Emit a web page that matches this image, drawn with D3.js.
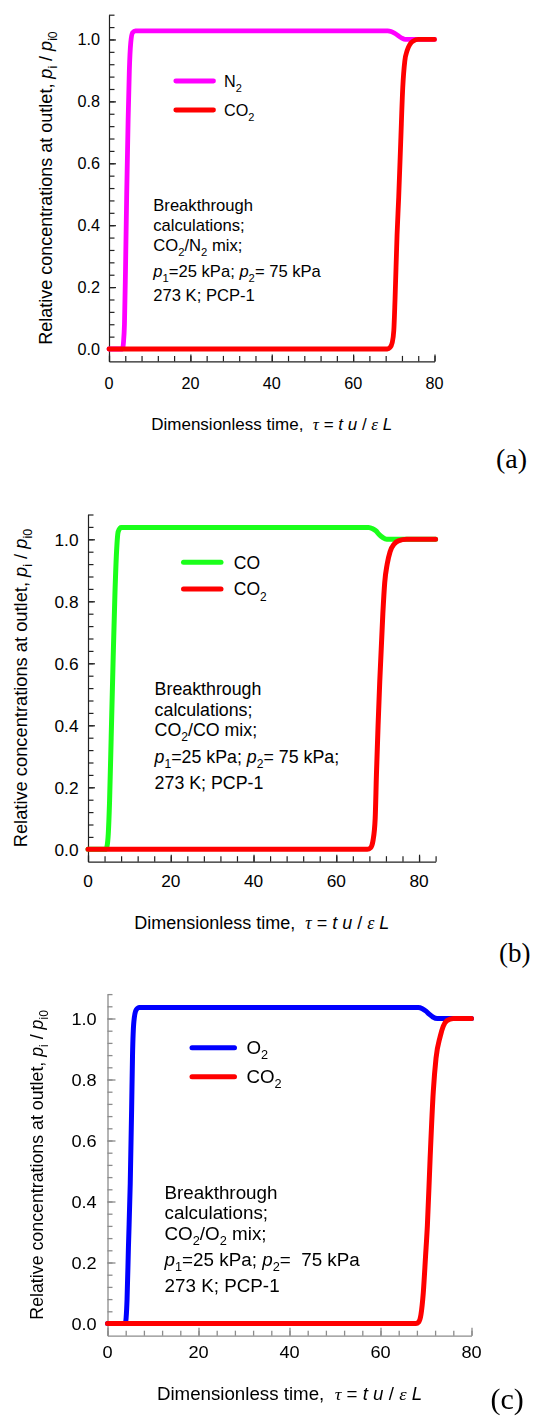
<!DOCTYPE html>
<html>
<head>
<meta charset="utf-8">
<script src="https://cdn.jsdelivr.net/npm/d3@7"></script>
<style>
  body { margin: 0; background: #fff; }
  svg { display: block; }
  text { font-family: "Liberation Sans", Arial, sans-serif; fill: #000; white-space: pre; }
</style>
</head>
<body>
<svg id="fig" width="533" height="1416"></svg>
<script>
// Breakthrough curves: [dimensionless time τ, relative outlet concentration p_i/p_i0]
const n2A = [[0,0],[3.3,0],[3.55,0.02],[3.8,0.08],[4.05,0.25],[4.35,0.5],[4.7,0.74],[5.0,0.9],[5.35,0.99],[5.8,1.022],[6.5,1.028],[20,1.028],[68.5,1.028],[69.3,1.026],[70.2,1.02],[71.1,1.012],[72,1.004],[72.8,1.0],[80,1.0]];
const co2A = [[0,0],[68.4,0],[69.1,0.005],[69.6,0.02],[70.0,0.06],[70.3,0.16],[70.8,0.37],[71.2,0.49],[71.7,0.67],[72.2,0.845],[72.7,0.93],[73.3,0.965],[74.0,0.985],[74.8,0.995],[76,1.0],[80,1.0]];

const coB = [[0,0],[4.3,0],[4.6,0.01],[4.9,0.05],[5.2,0.15],[5.6,0.36],[6.05,0.6],[6.5,0.82],[6.9,0.96],[7.3,1.025],[8,1.038],[20,1.038],[67.8,1.038],[68.8,1.034],[69.6,1.027],[70.3,1.016],[71.2,1.006],[72.2,1.0],[84,1.0]];
const co2B = [[0,0],[67.5,0],[68.3,0.005],[68.9,0.03],[69.4,0.1],[69.7,0.24],[70.1,0.4],[70.5,0.54],[71.25,0.76],[71.7,0.86],[72.3,0.92],[73.0,0.96],[74.0,0.985],[75,0.995],[77,1.0],[84,1.0]];

const o2C = [[0,0],[3.9,0],[4.1,0.02],[4.3,0.08],[4.6,0.25],[5.0,0.46],[5.3,0.7],[5.5,0.88],[5.8,0.99],[6.3,1.028],[7,1.036],[20,1.036],[68.3,1.036],[69.2,1.032],[70,1.024],[70.7,1.014],[71.5,1.005],[72.5,1.0],[80,1.0]];
const co2C = [[0,0],[67.8,0],[68.4,0.005],[68.9,0.03],[69.4,0.1],[69.9,0.22],[70.3,0.32],[70.9,0.54],[71.6,0.76],[72.2,0.87],[73.1,0.94],[73.8,0.975],[74.6,0.993],[76,1.0],[80,1.0]];

// Axis ticks and labels
const yTickValues = [0, 0.2, 0.4, 0.6, 0.8, 1.0];
const yTickLabels = ["0.0", "0.2", "0.4", "0.6", "0.8", "1.0"];
const xTickValues = [0, 20, 40, 60, 80];
const xTickLabels = ["0", "20", "40", "60", "80"];
const panelLetters = ["(a)", "(b)", "(c)"];

// Legend entries and annotation text (sub = subscript, i = italic)
const legendA = [{ parts: [{ t: "N" }, { t: "2", sub: true }], color: "#ff00ff" },
                 { parts: [{ t: "CO" }, { t: "2", sub: true }], color: "#ff0000" }];
const legendB = [{ parts: [{ t: "CO" }], color: "#1aff1a" },
                 { parts: [{ t: "CO" }, { t: "2", sub: true }], color: "#ff0000" }];
const legendC = [{ parts: [{ t: "O" }, { t: "2", sub: true }], color: "#0000ff" },
                 { parts: [{ t: "CO" }, { t: "2", sub: true }], color: "#ff0000" }];

const noteA = [
  [{ t: "Breakthrough" }],
  [{ t: "calculations;" }],
  [{ t: "CO" }, { t: "2", sub: true }, { t: "/N" }, { t: "2", sub: true }, { t: " mix;" }],
  [{ t: "p", i: true }, { t: "1", sub: true }, { t: "=25 kPa; " }, { t: "p", i: true }, { t: "2", sub: true }, { t: "= 75 kPa" }],
  [{ t: "273 K; PCP-1" }]
];
const noteB = [
  [{ t: "Breakthrough" }],
  [{ t: "calculations;" }],
  [{ t: "CO" }, { t: "2", sub: true }, { t: "/CO mix;" }],
  [{ t: "p", i: true }, { t: "1", sub: true }, { t: "=25 kPa; " }, { t: "p", i: true }, { t: "2", sub: true }, { t: "= 75 kPa;" }],
  [{ t: "273 K; PCP-1" }]
];
const noteC = [
  [{ t: "Breakthrough" }],
  [{ t: "calculations;" }],
  [{ t: "CO" }, { t: "2", sub: true }, { t: "/O" }, { t: "2", sub: true }, { t: " mix;" }],
  [{ t: "p", i: true }, { t: "1", sub: true }, { t: "=25 kPa; " }, { t: "p", i: true }, { t: "2", sub: true }, { t: "=  75 kPa" }],
  [{ t: "273 K; PCP-1" }]
];

const yTitle = [{ t: "Relative concentrations at outlet, " }, { t: "p", i: true }, { t: "i", sub: true },
                { t: " / " }, { t: "p", i: true }, { t: "i0", sub: true }];
const xTitle = [{ t: "Dimensionless time,  " }, { t: "τ", serif: true, i: true }, { t: " = " },
                { t: "t u", i: true }, { t: " / " }, { t: "ε", serif: true, i: true }, { t: " L", i: true }];

const svg = d3.select("#fig");
const defs = svg.append("defs");
defs.append("filter").attr("id", "soft").attr("x", "-5%").attr("y", "-5%").attr("width", "110%").attr("height", "110%")
  .append("feGaussianBlur").attr("stdDeviation", 0.35);

// Text made of plain, italic, serif and subscript runs
function richText(g, x, y, parts, size, opts = {}) {
  const sx = opts.stretch || 1;
  const rot = opts.rotate ? ` rotate(${opts.rotate})` : "";
  const t = g.append("text")
    .attr("transform", `translate(${x},${y})${rot} scale(${sx},1)`)
    .attr("text-anchor", opts.anchor || "start")
    .style("font-size", size + "px");
  let shift = 0;
  parts.forEach(p => {
    const s = t.append("tspan").text(p.t);
    if (p.i) s.style("font-style", "italic");
    if (p.serif) s.style("font-family", '"Liberation Serif", "Times New Roman", serif');
    const want = p.sub ? size * 0.3 : 0;
    if (want !== shift) { s.attr("dy", want - shift); shift = want; }
    if (p.sub) s.style("font-size", (size * 0.68) + "px");
  });
  return t;
}

function drawPanel(c) {
  const g = svg.append("g");
  if (c.soft) g.attr("filter", "url(#soft)");
  const x = d3.scaleLinear().domain([0, c.xMax]).range(c.xRange);
  const y = d3.scaleLinear().domain([-0.04, 1.08]).range(c.yRange);
  const axisY = c.yRange[0], axisX = c.xRange[0];

  // x axis: minor ticks every 4, longer ticks at labelled values
  const xMinor = d3.range(0, c.xMax + 0.001, 4);
  const gx = g.append("g").attr("transform", `translate(0,${axisY})`);
  gx.call(d3.axisBottom(x).tickValues(xMinor).tickSize(-c.minorTick).tickSizeOuter(0).tickFormat(""));
  gx.append("g").call(d3.axisBottom(x).tickValues(xTickValues).tickSize(-c.majorTick).tickSizeOuter(0).tickFormat(""))
    .select(".domain").remove();
  // y axis: minor ticks every 0.04
  const yMinor = d3.range(0, 28).map(i => +(i * 0.04).toFixed(2));
  const gy = g.append("g").attr("transform", `translate(${axisX},0)`);
  gy.call(d3.axisLeft(y).tickValues(yMinor).tickSize(-c.minorTick).tickSizeOuter(0).tickFormat(""));
  gy.append("g").call(d3.axisLeft(y).tickValues(yTickValues).tickSize(-c.majorTick).tickSizeOuter(0).tickFormat(""))
    .select(".domain").remove();
  g.selectAll(".domain, .tick line").attr("stroke", c.axisColor).attr("stroke-width", c.axisWidth);

  // tick labels
  xTickValues.forEach((v, i) => {
    richText(g, x(v), c.xLabelBase, [{ t: xTickLabels[i] }], c.tickFont, { anchor: "middle", stretch: c.stretch });
  });
  yTickValues.forEach((v, i) => {
    richText(g, c.yLabelRight, y(v) + c.tickFont * 0.36, [{ t: yTickLabels[i] }], c.tickFont, { anchor: "end", stretch: c.stretch });
  });

  // axis titles
  richText(g, (c.xRange[0] + c.xRange[1]) / 2, c.xTitleBase, xTitle, c.xTitleFont, { anchor: "middle", stretch: c.stretch });
  richText(g, c.yTitleBase, (c.yRange[0] + c.yRange[1]) / 2, yTitle, c.yTitleFont, { anchor: "middle", rotate: -90 });

  // curves (CO2 drawn last, on top)
  const line = d3.line().x(d => x(d[0])).y(d => y(d[1])).curve(d3.curveMonotoneX);
  c.series.forEach((s, i) => {
    g.append("path").datum(s).attr("d", line)
      .attr("fill", "none").attr("stroke", c.legend[i].color)
      .attr("stroke-width", c.lineWidth).attr("stroke-linecap", "round").attr("stroke-linejoin", "round");
  });

  // legend
  c.legend.forEach((L, i) => {
    const ly = c.legendY[i];
    g.append("line").attr("x1", c.legendX[0]).attr("x2", c.legendX[1]).attr("y1", ly).attr("y2", ly)
      .attr("stroke", L.color).attr("stroke-width", c.lineWidth).attr("stroke-linecap", "round");
    richText(g, c.legendTextX, ly + c.legendFont * 0.36, L.parts, c.legendFont, { stretch: c.stretch });
  });

  // annotation block
  c.note.forEach((parts, i) => {
    richText(g, c.noteX, c.noteBase[i], parts, c.noteFont, { stretch: c.stretch });
  });

  // panel letter
  g.append("text").attr("x", c.letter[0]).attr("y", c.letter[1])
    .style("font-family", '"Liberation Serif", "Times New Roman", serif')
    .style("font-size", c.letterFont + "px").text(c.letterText);
}

drawPanel({
  xMax: 80, xRange: [109, 434.5], yRange: [361.4, 14.7],
  minorTick: 5.5, majorTick: 7, axisColor: "#222", axisWidth: 1.2,
  tickFont: 16.2, xLabelBase: 389, yLabelRight: 100,
  xTitleFont: 17, xTitleBase: 430, yTitleFont: 18, yTitleBase: 52,
  series: [n2A, co2A], legend: legendA, lineWidth: 4.8,
  legendX: [175.8, 213.5], legendY: [81, 110], legendTextX: 224, legendFont: 16.2,
  note: noteA, noteX: 153.3, noteBase: [210.7, 230.7, 250.7, 276.7, 300.7], noteFont: 16.6,
  letter: [496, 467.5], letterFont: 28, letterText: panelLetters[0], stretch: 1
});

drawPanel({
  xMax: 84, xRange: [88, 435.6], yRange: [861.7, 514.5],
  minorTick: 5.5, majorTick: 7, axisColor: "#222", axisWidth: 1.2,
  tickFont: 17.3, xLabelBase: 886.7, yLabelRight: 78.5,
  xTitleFont: 18, xTitleBase: 928.5, yTitleFont: 18.3, yTitleBase: 26.6,
  series: [coB, co2B], legend: legendB, lineWidth: 5,
  legendX: [183.5, 221], legendY: [562.3, 589], legendTextX: 233.8, legendFont: 17.5,
  note: noteB, noteX: 154.6, noteBase: [695, 716, 736, 762.7, 789.3], noteFont: 17.8,
  letter: [499, 962], letterFont: 27, letterText: panelLetters[1], stretch: 1
});

drawPanel({
  xMax: 80, xRange: [107.5, 471.5], yRange: [1335.7, 994.1],
  minorTick: 5, majorTick: 8, axisColor: "#8c8c8c", axisWidth: 1.3,
  tickFont: 17, xLabelBase: 1358, yLabelRight: 96.7,
  xTitleFont: 17.5, xTitleBase: 1400, yTitleFont: 17.8, yTitleBase: 42.7,
  series: [o2C, co2C], legend: legendC, lineWidth: 5,
  legendX: [192, 234.5], legendY: [1047.7, 1076.7], legendTextX: 246.4, legendFont: 17.5,
  note: noteC, noteX: 164.5, noteBase: [1199.3, 1219.3, 1240, 1266, 1291.7], noteFont: 17.6,
  letter: [490.4, 1409], letterFont: 30, letterText: panelLetters[2], stretch: 1.07, soft: true
});
</script>
</body>
</html>
